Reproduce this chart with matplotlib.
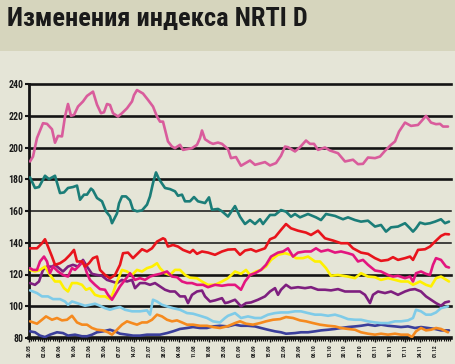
import numpy as np
import matplotlib
matplotlib.use("Agg")
import matplotlib.pyplot as plt
from matplotlib.patches import Rectangle
from matplotlib.ticker import MultipleLocator, FixedLocator
from matplotlib import font_manager as fm

# ---------------- data (time axis in arbitrary units, 0 = first date label) ----------------
date_labels = ["26.05", "02.06", "09.06", "16.06", "23.06", "30.06", "07.07", "14.07",
               "21.07", "28.07", "04.08", "11.08", "18.08", "25.08", "01.09", "08.09",
               "15.09", "22.09", "29.09", "06.10", "13.10", "20.10", "27.10", "03.11",
               "10.11", "17.11", "24.11", "01.12"]
y_ticks = [80, 100, 120, 140, 160, 180, 200, 220, 240]

t_pink = [1, 4, 8, 14, 18, 23, 26, 29, 33, 36, 39, 42, 45, 49, 54, 58, 64, 68, 72, 75,
          78, 81, 84, 89, 93, 98, 103, 105, 108, 114, 119, 124, 128, 131, 134, 139, 143, 146, 151, 154,
          158, 163, 168, 171, 173, 176, 181, 184, 189, 193, 199, 202, 207, 212, 221, 226, 236, 241, 247, 252,
          256, 259, 266, 271, 277, 281, 285, 289, 296, 301, 309, 316, 324, 329, 334, 339, 346, 351, 356, 362,
          366, 370, 376, 382, 389, 392, 397, 402, 407, 411, 414, 419]
v_pink = [191.2, 194.3, 206, 215.3, 214.9, 211.5, 203, 207.3, 207, 219.5,
          227.4, 220, 220.5, 225.8, 229, 232.5, 235.2, 227, 221.6, 222.2,
          227.4, 226.8, 221.6, 219.5, 221.6, 224.7, 229, 233, 236.2, 234,
          230, 225.8, 219.5, 216.3, 216.3, 203.8, 200.6, 199.6, 201.7, 198.5,
          199, 199.6, 201.7, 205.9, 210.7, 205.2, 203.1, 202.3, 203.1, 202.3,
          199, 193.3, 194, 188.5, 191.8, 189.1, 190.8, 188.7, 190.2, 194.8,
          200.6, 200.2, 197.5, 200.2, 204.4, 202.3, 202.3, 198.5, 200, 198.1,
          196.4, 191.2, 192.3, 189.5, 189.7, 193.7, 193.3, 194.3, 197.9, 201.7,
          203.8, 210, 215.7, 213.6, 214.2, 216.3, 219.9, 215.7, 214.7, 214.9,
          213.2, 213.2]

t_teal = [1, 6, 10, 16, 20, 26, 31, 35, 39, 44, 48, 51, 55, 58, 62, 64, 68, 73, 77, 81,
          83, 88, 90, 93, 97, 101, 104, 108, 113, 118, 121, 124, 127, 130, 136, 141, 146, 149, 153, 156,
          161, 165, 169, 176, 180, 183, 189, 193, 199,
          206, 211, 216, 221, 226, 231, 234, 241, 246, 252, 257, 262, 266, 271, 279, 287, 292, 297, 306, 314,
          319, 326, 332, 339, 346, 352, 357, 362, 369, 376, 381, 384, 387, 391, 396, 401, 406, 412, 416, 420]
v_teal = [181.2, 174.5, 175.1, 182.2, 180.1, 182.2, 171.3, 171.7, 174.5, 175.1,
          176, 167.1, 170.3, 170.3, 174.1, 173, 168.2, 166.1, 159.8, 156.6,
          152.3, 158.5, 164.8, 169.2, 169.2, 166.7, 160.8, 159.8, 160.4, 164,
          169.2, 177.6, 184.3, 180.1, 174.5, 173.8, 172.4, 169.6, 170.3, 166.1,
          166.1, 168.8, 166.1, 165, 168.6, 160.8, 161.3, 159.8, 156.5,
          163.1, 156.4, 151.8, 154.3, 151.8, 154.8, 151.8, 157.5, 157.5, 160.6,
          159.6, 156.4, 158.1, 156, 158.1, 156, 154.3, 158.1, 156.9, 154.8,
          156, 154.3, 153.3, 153.9, 150.2, 151.2, 147, 149.7, 150.2, 152.3,
          149.1, 147, 149.1, 152.7, 151.8, 152.3, 153.3, 154.8, 152.3, 153.3]

t_red = [1, 8, 13, 16, 19, 23, 26, 31, 36, 41, 45, 48, 53, 56, 60, 64, 68, 71, 76, 81,
         86, 91, 94, 99, 104, 109, 113, 118, 123, 128, 134, 136, 139, 144, 149, 154, 161, 164, 168, 173,
         179, 186, 193, 199,
         206, 211, 216, 222, 227, 236, 241, 246, 252, 257, 262, 269, 277, 282, 289, 296, 304, 312, 319, 324,
         332, 339, 346, 352, 359, 364, 369, 376, 381, 384, 389, 396, 401, 406, 412, 416, 420]
v_red = [136.5, 136.5, 139.7, 142.2, 137.6, 131.3, 126.1, 127.1, 129.2, 132.4,
         135.5, 128.2, 128.2, 125, 127.1, 130.3, 131.3, 122.9, 119.7, 117.6,
         119.7, 126.1, 133.4, 133.8, 130.3, 133.4, 135.9, 134.5, 136.5, 140.7,
         142.8, 142.2, 137.6, 138.6, 137.6, 135.5, 133.8, 135.5, 133, 134.5,
         133.8, 132.4, 134.5, 135.7,
         135.9, 132.4, 135.1, 135.9, 134.5, 136.5, 142.2, 143.5, 148.1, 151.8,
         149.1, 147.6, 146.4, 144.9, 147.6, 142.8, 141.4, 139.7, 139.7, 136.5,
         133.8, 133, 130.3, 128.6, 129.2, 130.9, 129.2, 130.3, 131.3, 129.2,
         135.5, 135.9, 137.6, 140.7, 144.3, 145.5, 145.3]

t_yellow = [1, 6, 11, 16, 21, 26, 31, 35, 39, 43, 48, 53, 57, 61, 66, 71, 76, 81, 84, 88,
            93, 98, 103, 108, 113, 118, 123, 128, 131, 136, 141, 146, 151, 156, 161, 168, 173, 179, 186, 193,
            199,
            206, 212, 217, 221, 227, 232, 237, 242, 249, 256, 262, 267, 274, 279, 286, 291, 297, 302, 309, 319,
            326, 332, 339, 346, 352, 359, 366, 372, 379, 384, 391, 397, 402, 407, 412, 420]
v_yellow = [122.9, 121.9, 122.9, 125, 119.7, 115.6, 115.6, 111.4, 109.3, 114.6,
            114.6, 113.5, 110.4, 111.4, 107.2, 106.2, 106.2, 104.5, 108.3, 115.6,
            122.9, 121.9, 119.7, 122.9, 121.9, 124, 125, 127.1, 124, 120.8,
            119.7, 122.9, 122.9, 119.7, 118, 117.6, 115.6, 113.5, 113.5, 115.6,
            117.7,
            121.9, 120.4, 122.9, 119.7, 121.9, 122.9, 125, 129.2, 132.4, 133.4,
            132.4, 130.3, 130.3, 131.3, 128.2, 128.2, 124, 119.2, 119.7, 118.7,
            117.7, 120.8, 118.7, 118.3, 116.6, 117.7, 116.6, 115.6, 115.6, 113.5,
            115.6, 113.5, 112.5, 117.7, 118.7, 115.6]

t_magenta = [1, 4, 8, 11, 15, 18, 21, 24, 29, 34, 39, 43, 46, 51, 54, 58, 61, 66, 71, 76,
             79, 83, 86, 91, 96, 101, 106, 111, 116, 121, 126, 131, 138, 143, 148, 153, 158, 163, 168, 174,
             179, 186, 193, 199,
             206, 212, 216, 221, 226, 232, 237, 242, 249, 254, 259, 264, 269, 276, 282, 287, 292, 299, 306, 312,
             319, 324, 329, 334, 339, 346, 352, 359, 364, 369, 376, 381, 384, 387, 392, 397, 401, 404, 407, 412,
             417, 420]
v_magenta = [124, 122.9, 122.9, 128.2, 131.3, 128.2, 120.8, 125, 121.9, 119.7,
             118.7, 124, 122.9, 126.1, 128.2, 120.8, 116.6, 113.5, 110.8, 110.4,
             107.2, 104.1, 107.2, 112.5, 116.6, 120.8, 116.6, 117.7, 116.6, 118.7,
             119.7, 120.4, 121.9, 118.7, 118.3, 115.6, 114.6, 114.6, 113.5, 113.5,
             112, 113.5, 112.9, 113.5,
             113.5, 110.4, 115.6, 119.7, 120.8, 122.9, 126.1, 131.3, 133.8, 134.5,
             136.5, 131.3, 133.8, 134.5, 134.5, 136.5, 134.5, 135.5, 133.8, 134.5,
             133.4, 132.4, 128.2, 129.2, 126.1, 122.5, 121.9, 119.7, 118.7, 119.2,
             117.7, 118.7, 115.6, 120.8, 121.9, 120.4, 119.7, 126.1, 130.3, 129.2,
             125, 124.4]

t_purple = [1, 6, 10, 14, 18, 23, 26, 30, 34, 39, 44, 49, 54, 58, 63, 68, 73, 78, 83, 88,
            93, 98, 103, 106, 111, 116, 121, 126, 131, 136, 141, 146, 151, 156, 159, 163, 168, 173, 176, 181,
            186, 193, 196, 199,
            206, 212, 217, 222, 229, 236, 241, 246, 249, 252, 257, 262, 269, 276, 282, 289, 296, 302, 309, 316,
            322, 331, 336, 341, 344, 349, 356, 362, 369, 376, 381, 386, 392, 397, 402, 407, 412, 416, 420]
v_purple = [114.6, 113.5, 115.6, 122.9, 125, 125, 126.1, 124, 121.9, 125,
            126.1, 125, 129.2, 125, 120.4, 119.7, 119.2, 116.6, 115.6, 114.6,
            116.6, 115.6, 116.6, 111.4, 114.6, 114.6, 113.5, 114.6, 112.5, 110.4,
            109.3, 109.3, 106.2, 106.2, 102, 107.2, 109.3, 109.9, 106.2, 103,
            103.7, 105.1, 102, 102.4,
            104.1, 99.9, 102, 102.4, 104.1, 106.2, 109.3, 111.4, 107.2, 110.4,
            113.5, 111.4, 112, 111.4, 112, 110.4, 110.4, 110, 110.8, 109.3,
            109.3, 109.3, 107.2, 102, 107.2, 109.3, 108.3, 109.3, 107.2, 109.3,
            110.4, 110.8, 109.3, 106.2, 104.1, 102, 100.3, 102.4, 103]

t_lightblue = [1, 8, 13, 19, 24, 31, 36, 39, 43, 48, 56, 61, 66, 71, 76, 81, 86, 91, 96, 103,
               111, 118, 121, 124, 128, 133, 138, 144, 151, 158, 164, 171, 178, 184, 191, 196, 199,
               206, 212, 219, 226, 232, 239, 246, 252, 259, 266, 272, 279, 286, 292, 299, 306, 312, 319,
               326, 332, 339, 346, 352, 359, 366, 372, 379, 384, 387, 392, 397, 402, 407, 412, 419]
v_lightblue = [110, 108.3, 106.2, 106.2, 104.5, 104.5, 103, 100.9, 103, 102,
               100.3, 100.9, 101.6, 100.3, 98.8, 97.8, 98.8, 99.5, 97.8, 96.8,
               96.8, 97.4, 94.7, 104.1, 103, 100.9, 99.9, 98.8, 97.8, 95.7,
               95.3, 94, 92.6, 90.5, 89.8, 92.6, 94,
               95.7, 92.6, 93.6, 92.6, 92.6, 94.7, 95.7, 96.1, 96.1, 96.8,
               96.8, 95.7, 94.7, 94.7, 94, 94.7, 93.6, 91.9, 91.5, 91.5,
               90.5, 89.8, 89.4, 89.4, 90.5, 90.5, 91.1, 92.6, 97.8, 96.8,
               94.7, 94.7, 96.1, 98.8, 99.9]

t_orange = [1, 8, 13, 17, 23, 28, 33, 38, 43, 48, 53, 58, 63, 68, 74, 79, 83, 88, 93, 98,
            103, 108, 113, 118, 123, 128, 133, 138, 143, 148, 153, 158, 164, 171, 178, 184, 191, 199,
            206, 211, 217, 224, 231, 237, 244, 251, 257, 264, 271, 277, 284, 291, 299, 306, 312, 319,
            326, 332, 339, 346, 352, 359, 366, 372, 379, 383, 387, 392, 397, 402, 407, 412, 419]
v_orange = [90.5, 89, 91.5, 93.6, 91.5, 92.6, 91.1, 91.5, 94, 89.8,
            88.4, 88.4, 86.3, 85.2, 84.8, 83.6, 82.1, 85.2, 88.4, 90.5,
            89.4, 88.4, 89.8, 89.8, 91.5, 94.7, 93.6, 91.5, 90.5, 91.1,
            89.8, 88.4, 88.4, 87.7, 87.7, 86.9, 86.3, 87.5,
            89.4, 90.5, 89, 88.4, 89.4, 90.5, 91.5, 91.9, 93.2, 92.6,
            91.1, 90.5, 89.4, 88.4, 87.7, 87.3, 86.3, 85.7, 85.2, 83.6,
            82.7, 82.1, 82.7, 82.1, 82.7, 82.1, 82.1, 80.6, 84.2, 86.3,
            84.8, 85.2, 86.3, 85.7, 83.6]

t_navy = [1, 6, 11, 16, 21, 28, 34, 39, 46, 53, 58, 63, 68, 74, 81, 86, 91, 98, 104, 111,
          118, 124, 131, 138, 144, 151, 158, 164, 171, 178, 184, 191, 199,
          206, 212, 219, 226, 232, 239, 246, 252, 257, 266, 272, 279, 286, 292, 299, 306, 312, 319,
          326, 332, 339, 346, 352, 359, 366, 372, 379, 386, 392, 399, 406, 412, 420]
v_navy = [84.2, 83.6, 81.5, 80.6, 82.1, 83.6, 83.1, 81.5, 82.1, 81.1,
          81.1, 82.1, 83.6, 84.2, 85.2, 84.2, 82.7, 82.1, 81.5, 81.5,
          82.1, 82.1, 82.1, 83.1, 84.2, 85.7, 86.3, 86.9, 86.3, 86.3,
          87.3, 87.7, 87.3,
          88.4, 87.7, 87.7, 87.3, 86.3, 85.2, 84.2, 83.6, 82.7, 83.1,
          83.6, 83.6, 84.2, 84.8, 85.2, 85.7, 86.3, 86.9, 87.3, 87.7,
          88.4, 87.7, 88.4, 87.7, 87.3, 86.9, 87.3, 86.3, 86.9, 86.3,
          85.7, 84.8, 84.8]

# ---------------- style ----------------
BAND = "#d6d5bd"
BG = "#e5e5d7"
series = [
    (t_navy, v_navy, "#3b3f9c"),
    (t_orange, v_orange, "#f58a1f"),
    (t_lightblue, v_lightblue, "#7fcbe8"),
    (t_purple, v_purple, "#7e1f7f"),
    (t_yellow, v_yellow, "#fff000"),
    (t_magenta, v_magenta, "#e3157f"),
    (t_red, v_red, "#e8141c"),
    (t_teal, v_teal, "#1b7d78"),
    (t_pink, v_pink, "#d95c9c"),
]

# pick a condensed face if one is installed
names = {f.name for f in fm.fontManager.ttflist}
cond = [n for n in ("Liberation Sans Narrow", "Roboto Condensed", "Open Sans Condensed",
                    "DejaVu Sans Condensed") if n in names]
FAM = cond + ["DejaVu Sans"]
STRETCH = "condensed"

W, H = 456, 364
fig = plt.figure(figsize=(W / 100, H / 100), dpi=100, facecolor=BG)
fig.patches.append(Rectangle((0, 1 - 51 / H), 1, 51 / H, transform=fig.transFigure,
                             facecolor=BAND, edgecolor="none", zorder=0))
fig.text(7 / W, 1 - 19 / H, "Изменения индекса NRTI D", family=FAM, fontweight="bold",
         fontstretch=STRETCH, fontsize=19, color="#1a1a1a", va="center", ha="left")

ax = fig.add_axes([29 / W, 1 - 338 / H, (451 - 29) / W, (338 - 84) / H])
ax.set_facecolor(BG)
ax.set_xlim(0, 422)
ax.set_ylim(80, 240)

for g in y_ticks[1:]:
    lw = 1.1 if g in (140, 160) else 1.9
    ax.axhline(g, color="#141414", lw=lw, zorder=1, clip_on=False)

for tt, vv, col in series:
    ax.plot(tt, vv, color=col, lw=1.9, solid_joinstyle="round", solid_capstyle="round", zorder=3)

for s in ("top", "right"):
    ax.spines[s].set_visible(False)
ax.spines["left"].set_linewidth(2.0)
ax.spines["bottom"].set_linewidth(2.6)
ax.spines["left"].set_color("#141414")
ax.spines["bottom"].set_color("#141414")

ax.set_yticks(y_ticks)
ax.set_yticklabels([str(v) for v in y_ticks], family=FAM, fontstretch=STRETCH,
                   fontweight="bold", fontsize=7, color="#1a1a1a")
ax.tick_params(axis="y", length=3, width=1.5, pad=1, color="#141414")

n_lab = len(date_labels)
ax.xaxis.set_major_locator(FixedLocator(np.linspace(0, 406, n_lab)))
ax.set_xticklabels(date_labels, rotation=90, family=FAM, fontstretch=STRETCH,
                   fontweight="bold", fontsize=4.0, color="#1a1a1a", va="top")
ax.xaxis.set_minor_locator(MultipleLocator(406 / 189))
ax.tick_params(axis="x", which="major", length=3.0, width=1.0, pad=1.5, color="#141414")
ax.tick_params(axis="x", which="minor", length=2.5, width=0.8, color="#141414")

fig.savefig("out.png", dpi=100, facecolor=BG)
